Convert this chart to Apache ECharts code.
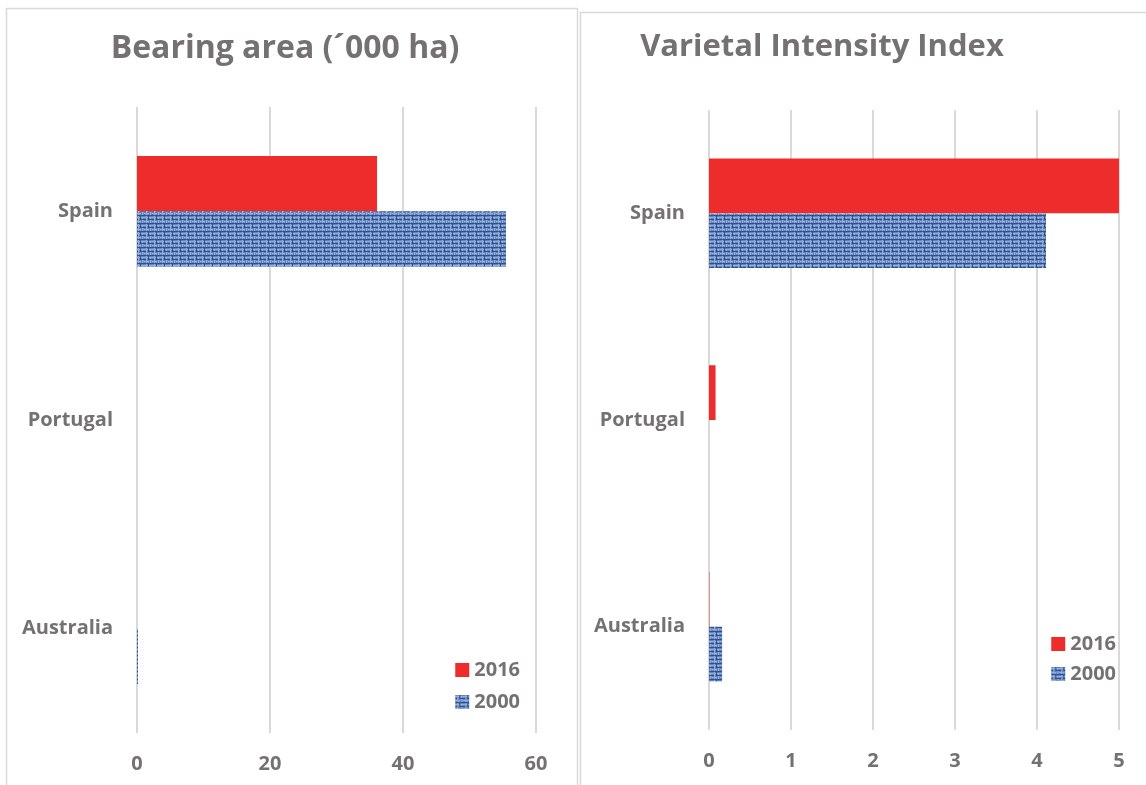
<!DOCTYPE html>
<html>
<head>
<meta charset="utf-8">
<script src="https://cdn.jsdelivr.net/npm/echarts@6/dist/echarts.min.js"></script>
<style>
html,body{margin:0;padding:0;background:#fff;}
#c{width:1146px;height:785px;}
</style>
</head>
<body>
<div id="c"></div>
<script>
const categories = ['Spain', 'Portugal', 'Australia'];
const seriesNames = ['2016', '2000'];
const bearing2016 = [36.1, 0, 0];
const bearing2000 = [55.5, 0, 0.15];
const intensity2016 = [5.01, 0.08, 0.005];
const intensity2000 = [4.11, 0, 0.16];
const bearingTicks = { min: 0, max: 60, interval: 20 };
const intensityTicks = { min: 0, max: 5, interval: 1 };

function makeTexture() {
  const c = document.createElement('canvas');
  c.width = 8; c.height = 8;
  const g = c.getContext('2d');
  g.fillStyle = '#5f82bd'; g.fillRect(0, 0, 8, 8);
  g.fillStyle = '#93afdc';
  g.fillRect(0, 1, 8, 1); g.fillRect(0, 5, 5, 1);
  g.fillRect(2, 0, 1, 8); g.fillRect(6, 2, 1, 5);
  g.fillStyle = '#34508a';
  g.fillRect(0, 3, 2, 1); g.fillRect(4, 3, 4, 1);
  g.fillRect(4, 0, 1, 3); g.fillRect(0, 7, 8, 1);
  g.fillStyle = '#7594c9';
  g.fillRect(3, 6, 2, 1); g.fillRect(7, 4, 1, 2);
  return c;
}
const texture = { image: makeTexture(), repeat: 'repeat' };
const red = '#ee2c2c';
const gray = '#757171';
const font = '"Open Sans", Lato, sans-serif';

function xAx(idx, t) {
  return {
    type: 'value', gridIndex: idx, min: t.min, max: t.max, interval: t.interval,
    axisLine: { show: false }, axisTick: { show: false },
    splitLine: { lineStyle: { color: '#d9d9d9', width: 2 } },
    axisLabel: { color: gray, fontSize: 20, fontWeight: 'bold', fontFamily: font, margin: 21 }
  };
}
function yAx(idx) {
  return {
    type: 'category', gridIndex: idx, data: categories, inverse: true,
    axisLine: { show: false }, axisTick: { show: false },
    axisLabel: { color: gray, fontSize: 20, fontWeight: 'bold', fontFamily: font, margin: 24 }
  };
}
function bar(name, idx, data, color) {
  return {
    name: name, type: 'bar', xAxisIndex: idx, yAxisIndex: idx, data: data,
    barGap: '0%', barCategoryGap: '47%', itemStyle: { color: color },
    emphasis: { disabled: true }
  };
}
function legend(right, top, gap) {
  return {
    data: seriesNames, orient: 'vertical', right: right, top: top,
    itemWidth: 14, itemHeight: 14, itemGap: gap, icon: 'rect',
    textStyle: { color: gray, fontSize: 20, fontWeight: 'bold', fontFamily: font }
  };
}

const chart = echarts.init(document.getElementById('c'));
chart.setOption({
  animation: false,
  graphic: [
    { type: 'rect', shape: { x: 6.5, y: 8.5, width: 571, height: 800 }, style: { fill: 'none', stroke: '#d9d9d9', lineWidth: 1.5 }, z: -1 },
    { type: 'rect', shape: { x: 580.5, y: 12.5, width: 600, height: 800 }, style: { fill: 'none', stroke: '#d9d9d9', lineWidth: 1.5 }, z: -1 }
  ],
  title: [
    { text: 'Bearing area (´000 ha)', left: 280, top: 28, textAlign: 'center',
      textStyle: { color: gray, fontSize: 32, fontWeight: 'bold', fontFamily: font } },
    { text: 'Varietal Intensity Index', left: 817, top: 27, textAlign: 'center',
      textStyle: { color: gray, fontSize: 31, fontWeight: 'bold', fontFamily: font } }
  ],
  legend: [legend(621, 655, 12), legend(25, 629, 10)],
  grid: [
    { left: 137, right: 610, top: 107, bottom: 52 },
    { left: 709, right: 27, top: 110, bottom: 55 }
  ],
  xAxis: [xAx(0, bearingTicks), xAx(1, intensityTicks)],
  yAxis: [yAx(0), yAx(1)],
  series: [
    bar(seriesNames[0], 0, bearing2016, red),
    bar(seriesNames[1], 0, bearing2000, texture),
    bar(seriesNames[0], 1, intensity2016, red),
    bar(seriesNames[1], 1, intensity2000, texture)
  ]
});
</script>
</body>
</html>
